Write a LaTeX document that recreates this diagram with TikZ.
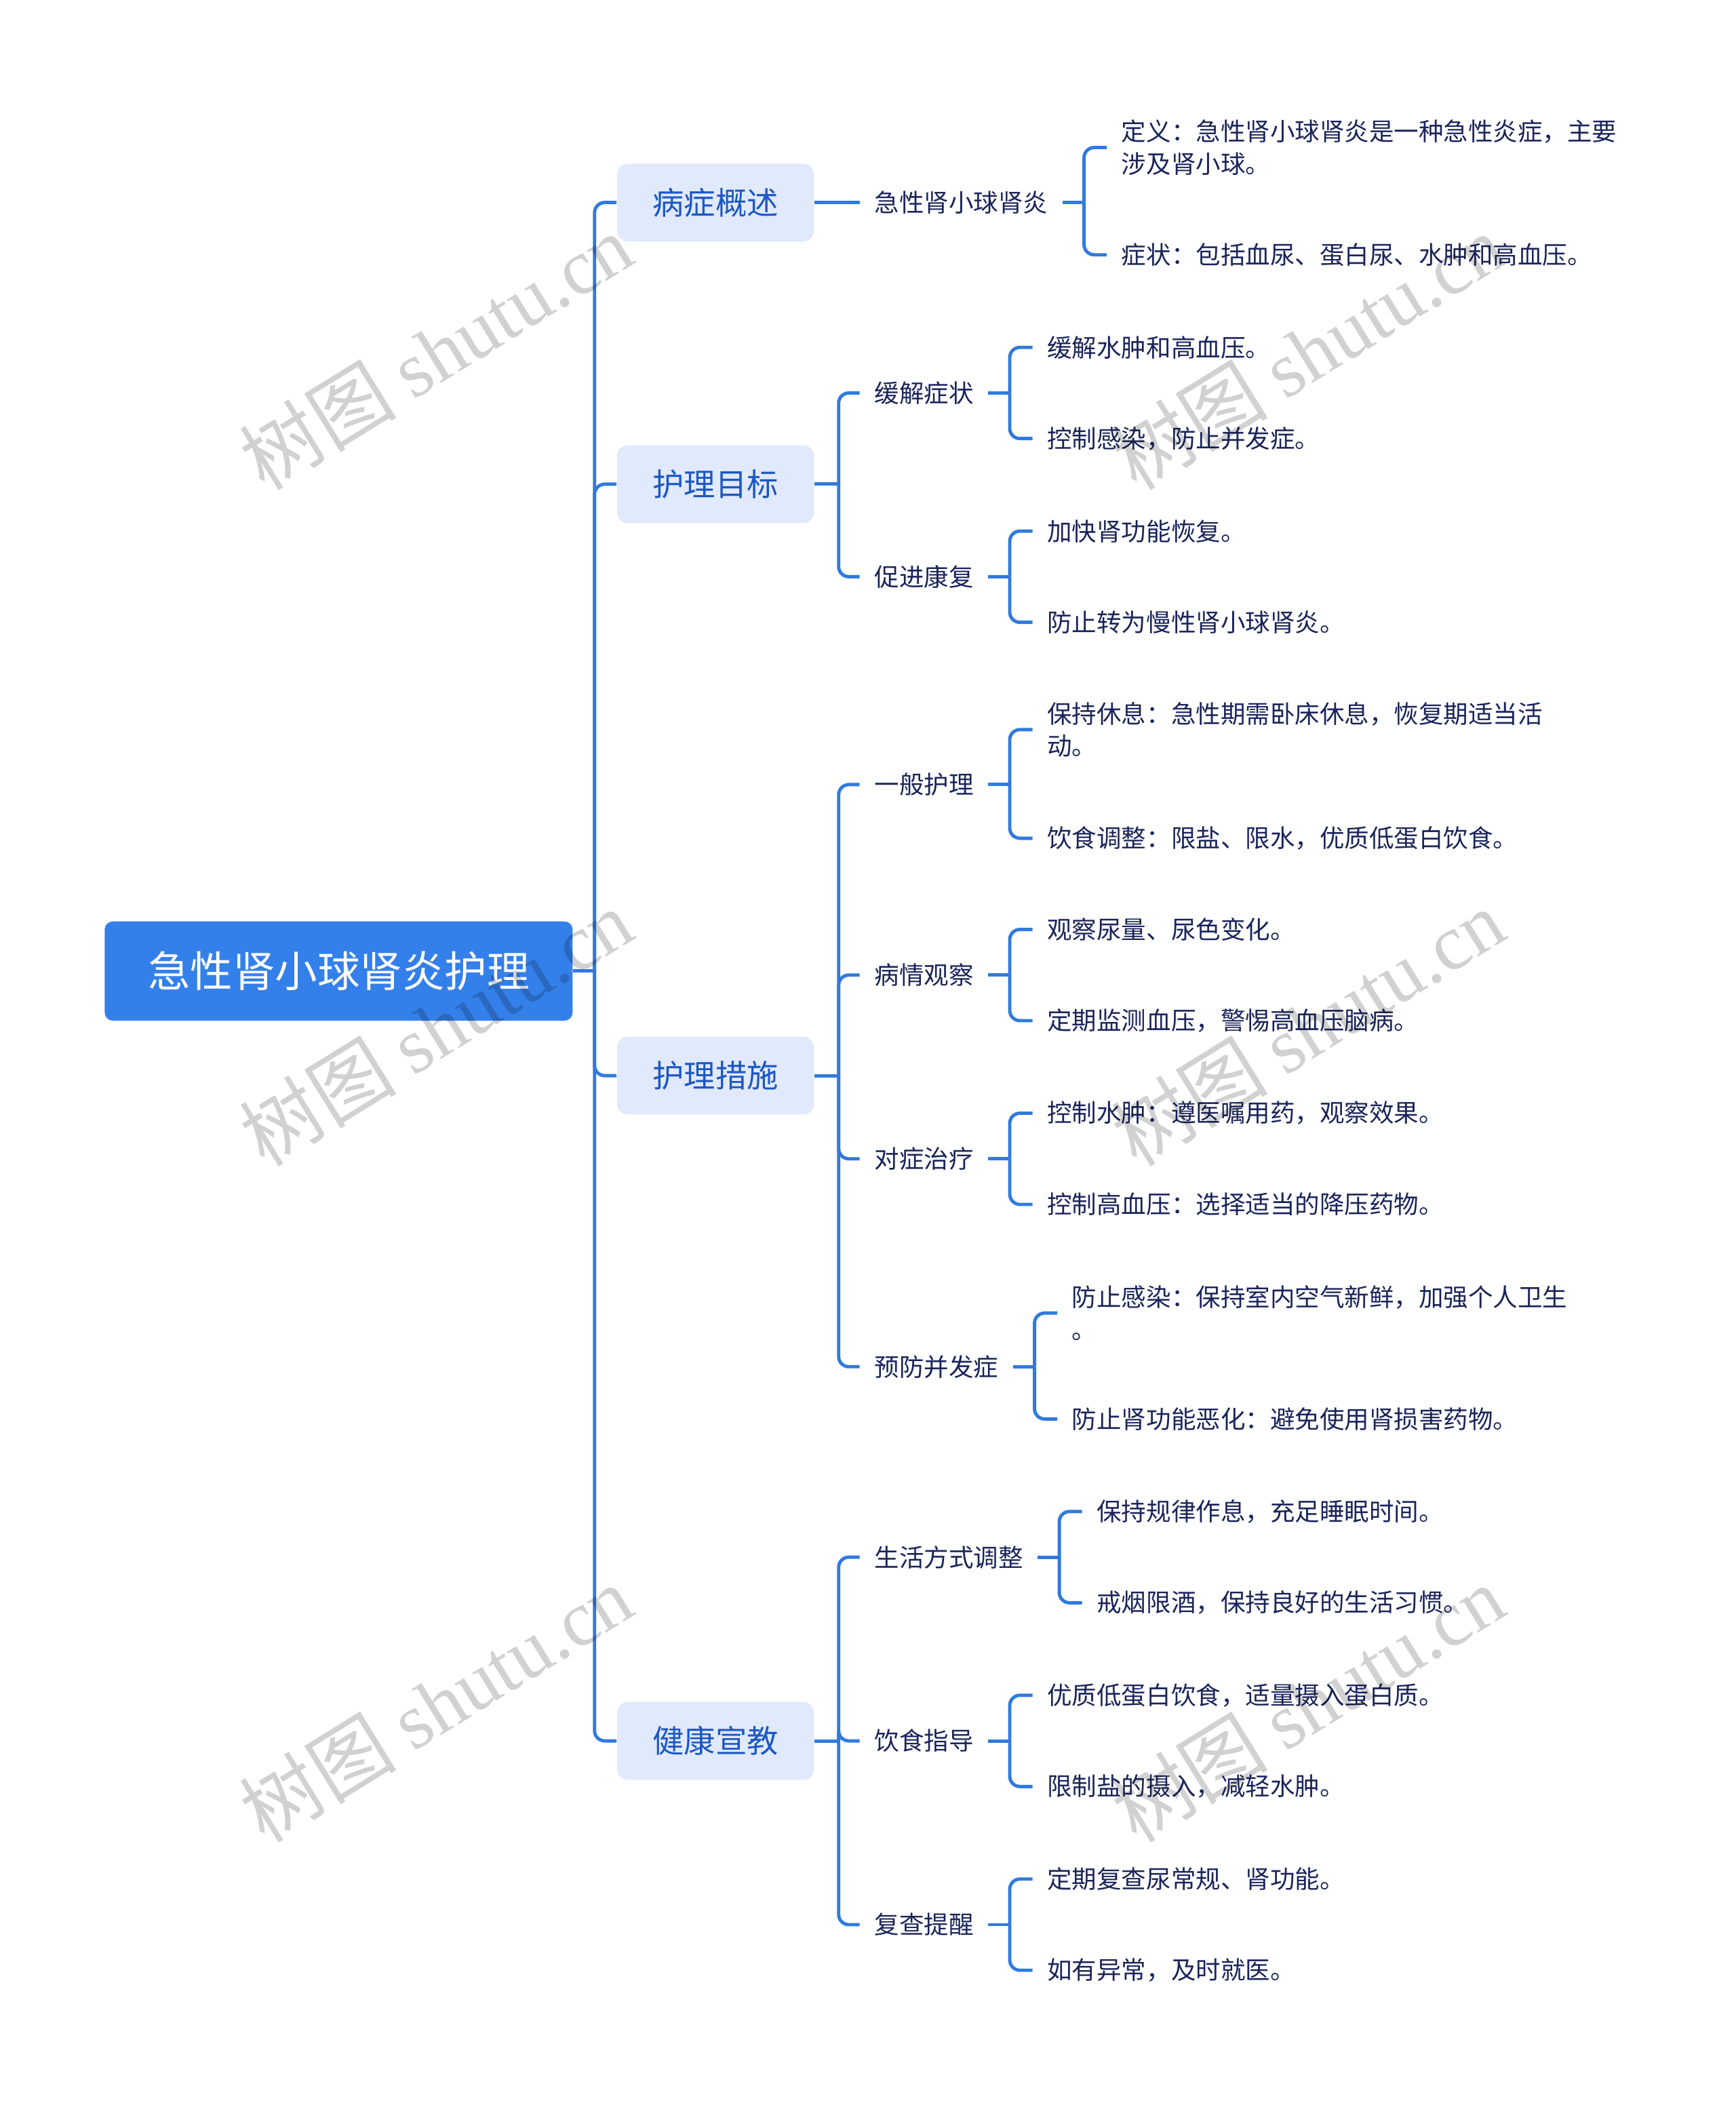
\documentclass[tikz,border=0pt]{standalone}
\usepackage{fontspec}
\setmainfont{Noto Sans CJK SC}
\newfontfamily\wmfont{Liberation Serif}
\usetikzlibrary{calc}

\definecolor{rootfill}{RGB}{52,128,234}
\definecolor{linkblue}{RGB}{48,122,222}
\definecolor{topicfill}{RGB}{225,233,252}
\definecolor{topictext}{RGB}{28,88,196}
\definecolor{leaftext}{RGB}{26,36,90}

\newcommand{\unitpx}{0.019784cm}   % one px of the 1294 wide layout
\newcommand{\stub}{16}              % node edge to junction
\newcommand{\reach}{17}             % junction to child

\tikzset{
  rootbox/.style={fill=rootfill, text=white, rounded corners=0.12cm,
    minimum width=6.905cm, minimum height=1.464cm,
    font=\fontsize{17.8}{20}\selectfont},
  topic/.style={fill=topicfill, text=topictext, rounded corners=0.16cm,
    minimum width=2.908cm, minimum height=1.147cm,
    font=\fontsize{13.2}{15}\selectfont},
  leaf/.style={anchor=west, text=leaftext, inner xsep=6pt, inner ysep=2pt,
    align=left, font=\fontsize{10.4}{13.5}\selectfont},
  link/.style={draw=linkblue, line width=1.4pt, rounded corners=0.15cm},
  wm/.style={text=black, text opacity=0.18, rotate=31.7,
    font=\fontsize{33}{33}\selectfont},
}

% parent, dy of first leaf, first text, dy of second leaf, second text
\newcommand{\twoleaves}[5]{%
  \coordinate (#1j) at ($(#1.east)+(\stub,0)$);
  \node[leaf] (#1x) at ($(#1j)+(\reach,#2)$) {#3};
  \node[leaf] (#1y) at ($(#1j)+(\reach,#4)$) {#5};
  \draw[link] (#1.east) -- (#1j);
  \draw[link] (#1j) |- (#1x.west);
  \draw[link] (#1j) |- (#1y.west);
}

\begin{document}
\begin{tikzpicture}[x=\unitpx, y=-\unitpx]
  \useasboundingbox (0,0) rectangle (1294,1568);
%
  \node[rootbox] (root) at (252.5,724) {急性肾小球肾炎护理};
%
  \node[topic] (la) at (533.5,151)  {病症概述};
  \node[topic] (lb) at (533.5,361)  {护理目标};
  \node[topic] (lc) at (533.5,802)  {护理措施};
  \node[topic] (ld) at (533.5,1298) {健康宣教};
%
  \coordinate (j0) at ($(root.east)+(\stub,0)$);
  \draw[link] (root.east) -- (j0);
  \foreach \n in {la,lb,lc,ld}
    \draw[link] (j0) |- (\n.west);
%
  \node[leaf] (a1) at (641,151)  {急性肾小球肾炎};
  \node[leaf] (b1) at (641,293)  {缓解症状};
  \node[leaf] (b2) at (641,430)  {促进康复};
  \node[leaf] (c1) at (641,585)  {一般护理};
  \node[leaf] (c2) at (641,727)  {病情观察};
  \node[leaf] (c3) at (641,864)  {对症治疗};
  \node[leaf] (c4) at (641,1019) {预防并发症};
  \node[leaf] (d1) at (641,1161) {生活方式调整};
  \node[leaf] (d2) at (641,1298) {饮食指导};
  \node[leaf] (d3) at (641,1435) {复查提醒};
%
  \draw[link] (la.east) -- (a1.west);
  \coordinate (jb) at ($(lb.east)+(18,0)$);
  \draw[link] (lb.east) -- (jb);
  \foreach \n in {b1,b2}
    \draw[link] (jb) |- (\n.west);
  \coordinate (jc) at ($(lc.east)+(18,0)$);
  \draw[link] (lc.east) -- (jc);
  \foreach \n in {c1,c2,c3,c4}
    \draw[link] (jc) |- (\n.west);
  \coordinate (jd) at ($(ld.east)+(18,0)$);
  \draw[link] (ld.east) -- (jd);
  \foreach \n in {d1,d2,d3}
    \draw[link] (jd) |- (\n.west);
%
  \twoleaves{a1}{-41}{定义：急性肾小球肾炎是一种急性炎症，主要\\涉及肾小球。}{39}{症状：包括血尿、蛋白尿、水肿和高血压。}
  \twoleaves{b1}{-34}{缓解水肿和高血压。}{34}{控制感染，防止并发症。}
  \twoleaves{b2}{-34}{加快肾功能恢复。}{34}{防止转为慢性肾小球肾炎。}
  \twoleaves{c1}{-41}{保持休息：急性期需卧床休息，恢复期适当活\\动。}{40}{饮食调整：限盐、限水，优质低蛋白饮食。}
  \twoleaves{c2}{-34}{观察尿量、尿色变化。}{34}{定期监测血压，警惕高血压脑病。}
  \twoleaves{c3}{-34}{控制水肿：遵医嘱用药，观察效果。}{34}{控制高血压：选择适当的降压药物。}
  \twoleaves{c4}{-40}{防止感染：保持室内空气新鲜，加强个人卫生\\。}{39}{防止肾功能恶化：避免使用肾损害药物。}
  \twoleaves{d1}{-34}{保持规律作息，充足睡眠时间。}{34}{戒烟限酒，保持良好的生活习惯。}
  \twoleaves{d2}{-34}{优质低蛋白饮食，适量摄入蛋白质。}{34}{限制盐的摄入，减轻水肿。}
  \twoleaves{d3}{-34}{定期复查尿常规、肾功能。}{34}{如有异常，及时就医。}
%
  % watermark
  \foreach \wx in {325,975}
    \foreach \wy in {262,766,1270}
      \node[wm] (wm\wx\wy) at (\wx,\wy) {树图 {\wmfont shutu.cn}};
\end{tikzpicture}
\end{document}
